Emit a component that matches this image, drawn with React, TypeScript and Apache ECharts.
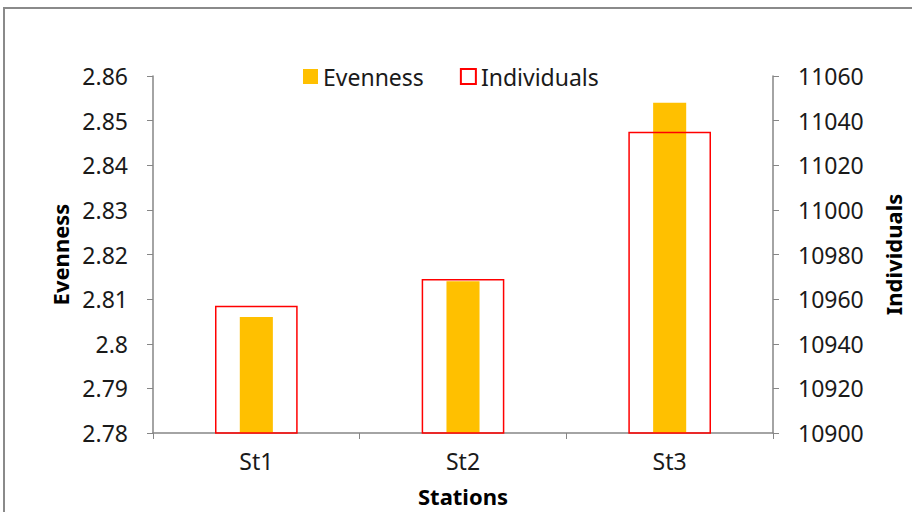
import React, { useEffect, useRef } from "react";
import * as echarts from "echarts";

const stations = ["St1", "St2", "St3"];
const evenness = [2.806, 2.814, 2.854];
const individuals = [10957, 10969, 11035];

const FONT = "'Noto Sans', 'Open Sans', sans-serif";
const AXIS_GREY = "#868686";
const LABEL_SIZE = 23;

export default function App() {
  const ref = useRef<HTMLDivElement>(null);

  useEffect(() => {
    if (!ref.current) return;
    const chart = echarts.init(ref.current, null, { renderer: "svg" });

    const catAxisBase = {
      type: "category" as const,
      data: stations,
      boundaryGap: true,
    };

    chart.setOption({
      animation: false,
      backgroundColor: "#ffffff",
      textStyle: { fontFamily: FONT },
      graphic: [
        {
          type: "rect",
          shape: { x: 4, y: 8, width: 1000, height: 1000 },
          style: { fill: "none", stroke: "#8a8a8a", lineWidth: 2 },
          silent: true,
        },
      ],
      legend: {
        left: 298,
        top: 60,
        itemWidth: 15,
        itemHeight: 15,
        itemGap: 36,
        icon: "rect",
        textStyle: { fontFamily: FONT, fontSize: LABEL_SIZE, color: "#1a1a1a" },
        data: ["Evenness", "Individuals"],
      },
      grid: { left: 153, right: 139, top: 76, bottom: 78 },
      xAxis: [
        {
          ...catAxisBase,
          name: "Stations",
          nameLocation: "middle",
          nameGap: 52,
          nameTextStyle: { fontFamily: FONT, fontSize: 22, fontWeight: "bold", color: "#000" },
          axisLine: { lineStyle: { color: AXIS_GREY, width: 1.5 } },
          axisTick: { show: true, length: 6, alignWithLabel: false, lineStyle: { color: AXIS_GREY } },
          axisLabel: { fontFamily: FONT, fontSize: LABEL_SIZE, color: "#1a1a1a", margin: 16 },
        },
        {
          ...catAxisBase,
          show: false,
        },
      ],
      yAxis: [
        {
          type: "value",
          min: 2.78,
          max: 2.86,
          interval: 0.01,
          name: "Evenness",
          nameLocation: "middle",
          nameGap: 82,
          nameTextStyle: { fontFamily: FONT, fontSize: 22, fontWeight: "bold", color: "#000" },
          axisLine: { show: true, lineStyle: { color: AXIS_GREY, width: 1.5 } },
          axisTick: { show: true, length: 6, lineStyle: { color: AXIS_GREY } },
          splitLine: { show: false },
          axisLabel: {
            fontFamily: FONT,
            fontSize: LABEL_SIZE,
            color: "#1a1a1a",
            margin: 25,
            formatter: (v: number) => String(parseFloat(v.toFixed(2))),
          },
        },
        {
          type: "value",
          position: "right",
          min: 10900,
          max: 11060,
          interval: 20,
          name: "Individuals",
          nameLocation: "middle",
          nameGap: 109,
          nameTextStyle: { fontFamily: FONT, fontSize: 22, fontWeight: "bold", color: "#000" },
          axisLine: { show: true, lineStyle: { color: AXIS_GREY, width: 1.5 } },
          axisTick: { show: true, length: 6, lineStyle: { color: AXIS_GREY } },
          splitLine: { show: false },
          axisLabel: {
            fontFamily: FONT,
            fontSize: LABEL_SIZE,
            color: "#1a1a1a",
            margin: 25,
            formatter: (v: number) => String(v),
          },
        },
      ],
      series: [
        {
          name: "Evenness",
          type: "bar",
          xAxisIndex: 0,
          yAxisIndex: 0,
          data: evenness,
          barWidth: "16%",
          itemStyle: { color: "#FFC000" },
        },
        {
          name: "Individuals",
          type: "bar",
          xAxisIndex: 1,
          yAxisIndex: 1,
          data: individuals,
          barWidth: "40%",
          itemStyle: { color: "rgba(255,255,255,0)", borderColor: "#FF0000", borderWidth: 1.5 },
        },
      ],
    });

    return () => chart.dispose();
  }, []);

  return (
    <div
      ref={ref}
      style={{ position: "fixed", left: 0, top: 0, width: 912, height: 512 }}
    />
  );
}
